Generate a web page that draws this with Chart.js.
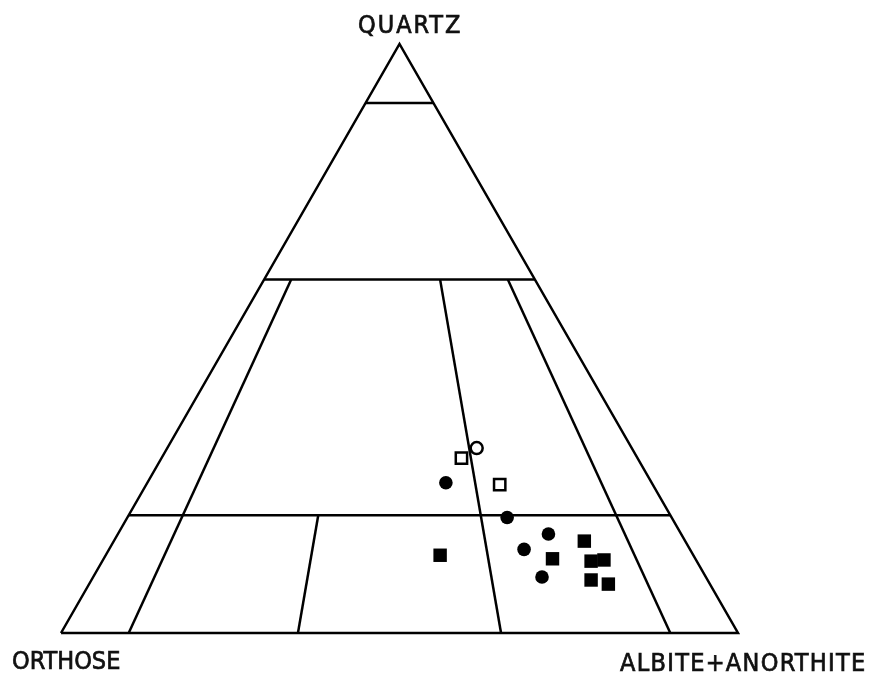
<!DOCTYPE html>
<html>
<head>
<meta charset="utf-8">
<script src="https://cdn.jsdelivr.net/npm/chart.js@4/dist/chart.umd.min.js"></script>
<style>
  body { margin: 0; background: #fff; }
  #wrap { position: relative; width: 869px; height: 674px; }
  .lbl {
    position: absolute;
    font-family: "DejaVu Sans Condensed", "DejaVu Sans", sans-serif;
    font-size: 25px;
    line-height: 25px;
    color: #111;
    -webkit-text-stroke: 0.7px #111;
    white-space: nowrap;
  }
</style>
</head>
<body>
<div id="wrap">
  <canvas id="grafico" width="869" height="674"></canvas>
  <div class="lbl" style="left:358px; top:12px; letter-spacing:2px;">QUARTZ</div>
  <div class="lbl" style="left:12px; top:648px; letter-spacing:0px;">ORTHOSE</div>
  <div class="lbl" style="left:620px; top:650px; letter-spacing:1.3px;">ALBITE+ANORTHITE</div>
</div>
<script>
// champs (limites en % de quartz et rapport P/(A+P))
const niveauxQ = [90, 60, 20]
const rapportsP = [10, 35, 65, 90]
const qMaxRapport = [60, 20, 60, 60] // jusqu'ou monte chaque ligne

// echantillons : Q = quartz %, P = albite+anorthite %
const cerclesVidesQ = [31.4]
const cerclesVidesP = [45.7]

const carresVidesQ = [29.7, 25.2]
const carresVidesP = [44.3, 52.2]

const cerclesPleinsQ = [25.5, 19.6, 16.8, 14.2, 9.5]
const cerclesPleinsP = [44.1, 56.1, 63.6, 61.3, 66.3]

const carresPleinsQ = [13.2, 12.6, 15.6, 12.2, 12.4, 9.0, 8.3]
const carresPleinsP = [49.4, 66.3, 69.5, 72.2, 74.0, 73.8, 76.7]

// ternaire -> x,y
const tern = (q, p) => ({ x: p + q / 2, y: q })
const toPts = (qs, ps) => qs.map((q, i) => tern(q, ps[i]))

const ligne = (pts) => ({
    data: pts,
    showLine: true,
    borderColor: '#000',
    borderWidth: 2.5,
    pointRadius: 0,
    fill: false,
    clip: false
})

const datasets = []

// contour du triangle
datasets.push(ligne([tern(0, 0), tern(100, 0), tern(0, 100), tern(0, 0)]))

// lignes horizontales
niveauxQ.forEach((q) => {
    datasets.push(ligne([tern(q, 0), tern(q, 100 - q)]))
})

// lignes de rapport P/(A+P)
rapportsP.forEach((r, i) => {
    const qTop = qMaxRapport[i]
    datasets.push(ligne([tern(0, r), tern(qTop, r / 100 * (100 - qTop))]))
})

const symb = (pts, style, r, plein) => ({
    data: pts,
    showLine: false,
    pointStyle: style,
    pointRadius: r,
    pointBackgroundColor: plein ? '#000' : '#fff',
    pointBorderColor: '#000',
    pointBorderWidth: plein ? 0 : 2.5,
    clip: false
})

datasets.push(symb(toPts(cerclesVidesQ, cerclesVidesP), 'circle', 6, false))
datasets.push(symb(toPts(carresVidesQ, carresVidesP), 'rect', 8, false))
datasets.push(symb(toPts(cerclesPleinsQ, cerclesPleinsP), 'circle', 6.8, true))
datasets.push(symb(toPts(carresPleinsQ, carresPleinsP), 'rect', 9.5, true))

const chartjs = new Chart(document.getElementById('grafico'), {
    type: 'scatter',
    data: { datasets },
    options: {
        responsive: false,
        animation: false,
        devicePixelRatio: 1,
        layout: { padding: { left: 61, right: 131, top: 44, bottom: 41 } },
        plugins: { legend: { display: false }, tooltip: { enabled: false } },
        scales: {
            x: { type: 'linear', min: 0, max: 100, display: false },
            y: { type: 'linear', min: 0, max: 100, display: false }
        }
    }
})
</script>
</body>
</html>
